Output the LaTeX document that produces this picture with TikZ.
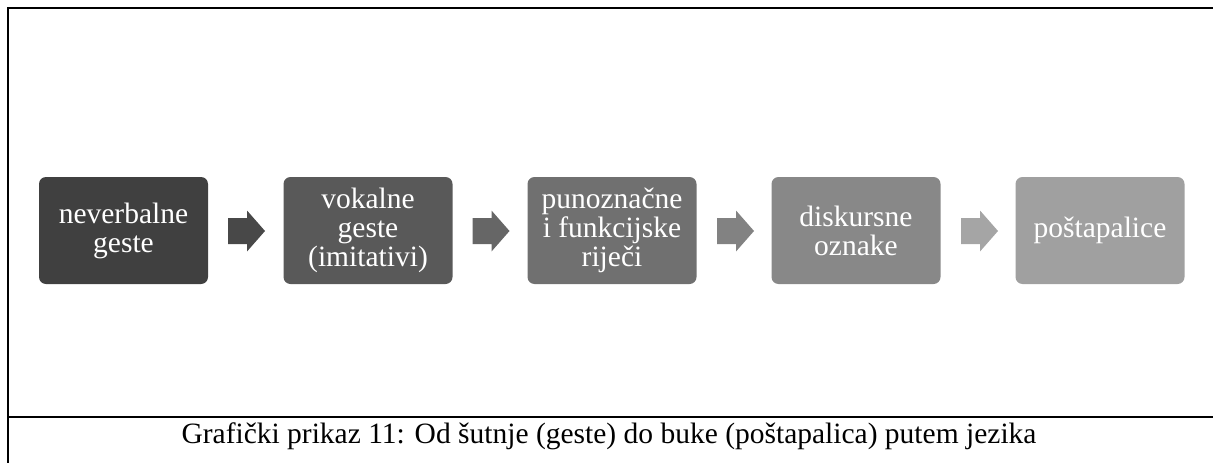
\documentclass[tikz,border=0pt]{standalone}
\usepackage{fontspec}
\setmainfont{Liberation Serif}
\definecolor{b1}{RGB}{64,64,64}
\definecolor{b2}{RGB}{89,89,89}
\definecolor{b3}{RGB}{112,112,112}
\definecolor{b4}{RGB}{136,136,136}
\definecolor{b5}{RGB}{160,160,160}
\definecolor{r1}{RGB}{72,72,72}
\definecolor{r2}{RGB}{102,102,102}
\definecolor{r3}{RGB}{130,130,130}
\definecolor{r4}{RGB}{165,165,165}
\tikzset{
  stepbox/.style={rectangle, rounded corners=7pt, minimum width=169pt, minimum height=107pt,
    inner sep=0pt, align=center, text=white, font=\fontsize{29.5}{29}\selectfont},
  chev/.pic={\path[fill] (-18.5,-13) -- (0.5,-13) -- (0.5,-20.5) -- (18.5,0) -- (0.5,20.5) -- (0.5,13) -- (-18.5,13) -- cycle;},
  frameline/.style={line width=2pt, black},
}
\begin{document}
\begin{tikzpicture}[x=1pt,y=-1pt]
\useasboundingbox (0,0) rectangle (1213,463);
\node[stepbox, fill=b1] (n1) at (123.5,230.5) {neverbalne\\geste};
\node[stepbox, fill=b2] (n2) at (368,230.5) {vokalne\\geste\\(imitativi)};
\node[stepbox, fill=b3] (n3) at (612,230.5) {punoznačne\\i funkcijske\\riječi};
\node[stepbox, fill=b4] (n4) at (856,230.5) {diskursne\\oznake};
\node[stepbox, fill=b5] (n5) at (1100,230.5) {poštapalice};
\coordinate (a1) at (246.5,231);
\coordinate (a2) at (491,231);
\coordinate (a3) at (735.5,231);
\coordinate (a4) at (979.5,231);
\pic[fill=r1] at (a1) {chev};
\pic[fill=r2] at (a2) {chev};
\pic[fill=r3] at (a3) {chev};
\pic[fill=r4] at (a4) {chev};
\coordinate (tl) at (7.5,7.5);
\coordinate (tr) at (1213,7.5);
\coordinate (bl) at (7.5,463);
\coordinate (ml) at (7.5,417);
\coordinate (mr) at (1213,417);
\draw[frameline] (tr) -- (tl) -- (bl);
\draw[frameline] (ml) -- (mr);
\node[font=\fontsize{29.5}{30}\selectfont, anchor=base] (cap) at (609,443) {Grafički prikaz 11: Od šutnje (geste) do buke (poštapalica) putem jezika};
\end{tikzpicture}
\end{document}
